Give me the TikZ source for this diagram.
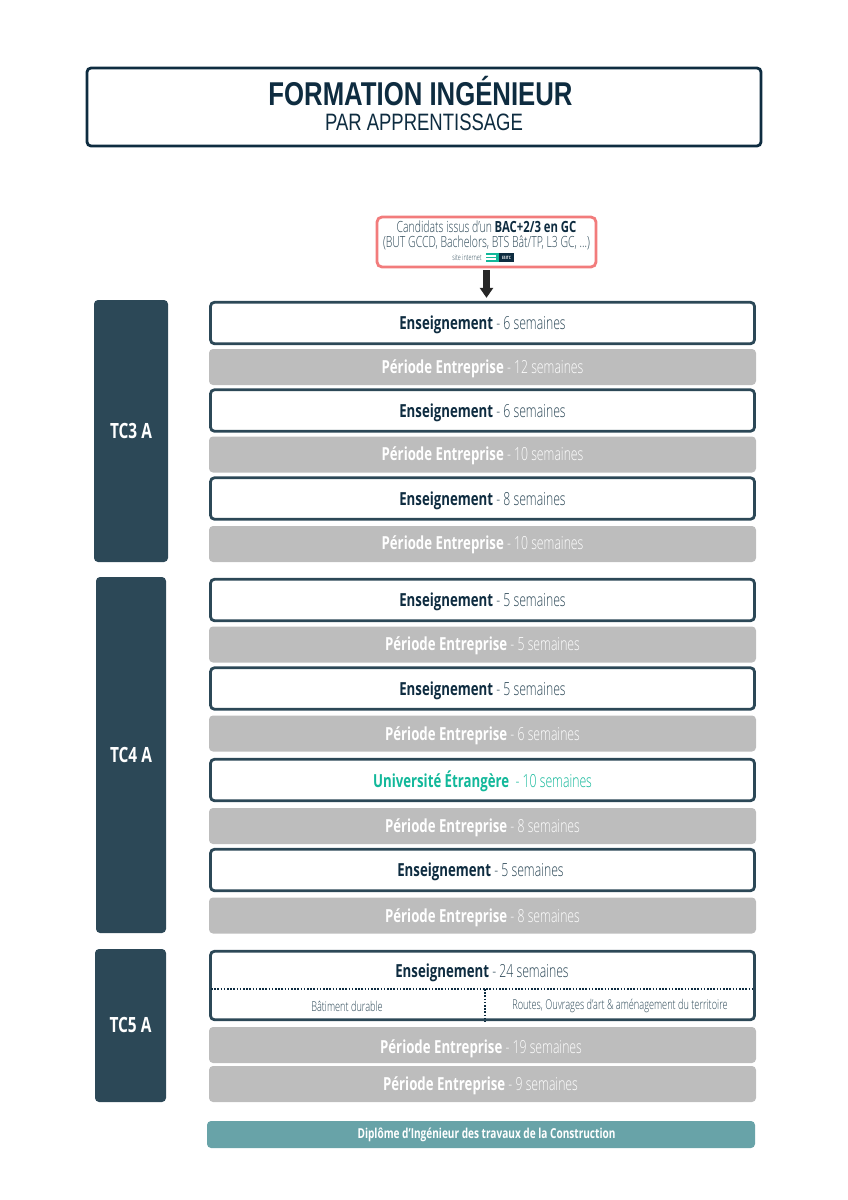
\documentclass[tikz,border=0pt]{standalone}
\usepackage{fontspec}
\setmainfont[FakeStretch=.68,UprightFont=* Light,BoldFont=* Bold,BoldFeatures={FakeStretch=.735}]{Open Sans}
\newfontfamily\titlefont[FakeStretch=.78]{Liberation Sans}
\usetikzlibrary{%
    arrows.meta,
    positioning
}
\definecolor{navy}{HTML}{0E2C40}
\definecolor{slate}{HTML}{2C4857}
\definecolor{salmon}{HTML}{F27C7C}
\definecolor{stone}{HTML}{BDBDBD}
\definecolor{teal}{HTML}{68A3A8}
\definecolor{mint}{HTML}{12B89A}
\tikzset{
    basebox/.style = {rectangle,rounded corners=4pt,minimum width=544pt,inner sep=0pt},
    ensbox/.style = {basebox,draw=slate,line width=2.8pt,fill=white,text=slate,font=\fontsize{18}{20}\selectfont,minimum height=41.5pt,text height=14pt,text depth=1pt},
    entbox/.style = {basebox,fill=stone,text=white,minimum width=547pt,font=\fontsize{18}{20}\selectfont,minimum height=36pt,text height=13pt,text depth=1pt},
    yearbox/.style = {rectangle,rounded corners=4pt,fill=slate,text=white,font=\fontsize{21}{24}\selectfont\bfseries},
    subtext/.style = {text=slate,inner sep=0pt,font=\fontsize{13.5}{15}\selectfont},
    candtext/.style = {text=slate,inner sep=0pt,font=\fontsize{15.4}{17}\selectfont},
    dotline/.style = {draw=navy,line width=1.6pt,dash pattern=on 1.6pt off 1.6pt},
    headarrow/.style = {-{Triangle[length=10pt,width=13pt]},line width=7pt,draw=black!85}
}
\newcommand{\ensbf}[1]{\textcolor{navy}{\textbf{#1}}}

\begin{document}
\begin{tikzpicture}[x=1pt,y=1pt]
    \useasboundingbox (0,0) rectangle (848,-1200);

    % title
    \node (title) [rectangle,draw=navy,line width=2.8pt,rounded corners=4pt,fill=white,minimum width=674pt,minimum height=78pt] at (424,-107) {};
    \node (titleA) [inner sep=0pt,text=navy,font=\titlefont\fontsize{33}{36}\selectfont\bfseries] at (420.5,-91) {FORMATION INGÉNIEUR};
    \node (titleB) [inner sep=0pt,text=navy,font=\titlefont\fontsize{23.7}{26}\selectfont] at (424,-122) {PAR APPRENTISSAGE};

    % candidates
    \node (cand) [rectangle,draw=salmon,line width=2.8pt,rounded corners=5pt,fill=white,minimum width=219pt,minimum height=50pt] at (486.5,-242) {};
    \node (candA) [candtext] at (486.5,-227) {Candidats issus d'un \ensbf{BAC+2/3 en GC}};
    \node (candB) [candtext] at (486.5,-243) {(BUT GCCD, Bachelors, BTS Bât/TP, L3 GC, ...)};
    \node (site) [inner sep=0pt,text=slate,font=\fontsize{8}{9}\selectfont] at (467,-258) {site internet};
    \node (logo) [rectangle,fill=navy,minimum width=15pt,minimum height=9pt,inner sep=0pt,text=white,font=\fontsize{4.5}{5}\selectfont\bfseries] at (506.5,-257.5) {ESITC};
    \node (icon) [rectangle,minimum width=12pt,minimum height=9pt,inner sep=0pt,left=0pt of logo] {};
    \draw[mint,line width=1.8pt] (icon.north west) ++(0,-.9) -- ++(12,0);
    \draw[mint,line width=1.8pt] (icon.west) -- (icon.east);
    \draw[mint,line width=1.8pt] (icon.south west) ++(0,.9) -- ++(12,0);
    \draw[mint,line width=3pt] (icon.north east) ++(-1.5,0) -- ++(0,-9);

    % years
    \node (TC3) [yearbox,minimum width=74pt,minimum height=262pt] at (131,-431) {TC3 A};
    \node (TC4) [yearbox,minimum width=70pt,minimum height=356pt] at (131,-755) {TC4 A};
    \node (TC5) [yearbox,minimum width=71pt,minimum height=153pt,text depth=2pt] at (130.5,-1025.5) {TC5 A};

    % TC3
    \node (E1) [ensbox] at (482.5,-323) {\ensbf{Enseignement} - 6 semaines};
    \node (P1) [entbox] at (482.5,-367) {\textbf{Période Entreprise} - 12 semaines};
    \node (E2) [ensbox] at (482.5,-410.5) {\ensbf{Enseignement} - 6 semaines};
    \node (P2) [entbox] at (482.5,-454.5) {\textbf{Période Entreprise} - 10 semaines};
    \node (E3) [ensbox] at (482.5,-498.5) {\ensbf{Enseignement} - 8 semaines};
    \node (P3) [entbox,text depth=2pt] at (482.5,-544) {\textbf{Période Entreprise} - 10 semaines};

    % TC4
    \node (E4) [ensbox] at (482.5,-600) {\ensbf{Enseignement} - 5 semaines};
    \node (P4) [entbox] at (482.5,-644.5) {\textbf{Période Entreprise} - 5 semaines};
    \node (E5) [ensbox] at (482.5,-688.5) {\ensbf{Enseignement} - 5 semaines};
    \node (P5) [entbox,text height=15pt] at (482.5,-733.5) {\textbf{Période Entreprise} - 6 semaines};
    \node (U1) [ensbox,text=mint,text height=15pt] at (482.5,-780) {\textbf{Université Étrangère}\ \ - 10 semaines};
    \node (P6) [entbox] at (482.5,-826) {\textbf{Période Entreprise} - 8 semaines};
    \node (E6) [ensbox] at (482.5,-870) {\ensbf{Enseignement} - 5 semaines\hspace*{4pt}};
    \node (P7) [entbox,text height=14pt] at (482.5,-915.5) {\textbf{Période Entreprise} - 8 semaines};

    % TC5
    \node (E7) [ensbox,minimum height=68.5pt] at (482.5,-985.5) {};
    \node (E7a) [inner sep=0pt,text=slate,font=\fontsize{18}{20}\selectfont,text height=13pt,text depth=1pt] at (482,-971) {\ensbf{Enseignement} - 24 semaines};
    \coordinate (dotL) at (211,-989);
    \coordinate (dotR) at (754,-989);
    \coordinate (dotM) at (485,-989);
    \draw[dotline] (dotL) -- (dotR);
    \draw[dotline] (dotM) -- (dotM |- E7.south);
    \node (E7b) [subtext] at (347,-1006) {Bâtiment durable};
    \node (E7c) [subtext] at (620,-1006) {Routes, Ouvrages d'art \& aménagement du territoire};
    \node (P8) [entbox,text height=17pt] at (482.5,-1045) {\textbf{Période Entreprise} - 19 semaines\hspace*{3pt}};
    \node (P9) [entbox] at (482.5,-1084) {\textbf{Période Entreprise} - 9 semaines\hspace*{4pt}};

    % diploma
    \node (dipl) [basebox,fill=teal,text=white,minimum width=548pt,minimum height=27pt,font=\fontsize{13.7}{15}\selectfont\bfseries] at (481,-1134.5) {\hspace*{11pt}Diplôme d'Ingénieur des travaux de la Construction};

    \coordinate (arrowtop) at (486.5,-270);
    \draw[headarrow,shorten >=3pt] (arrowtop) -- (arrowtop |- E1.north);
\end{tikzpicture}
\end{document}
